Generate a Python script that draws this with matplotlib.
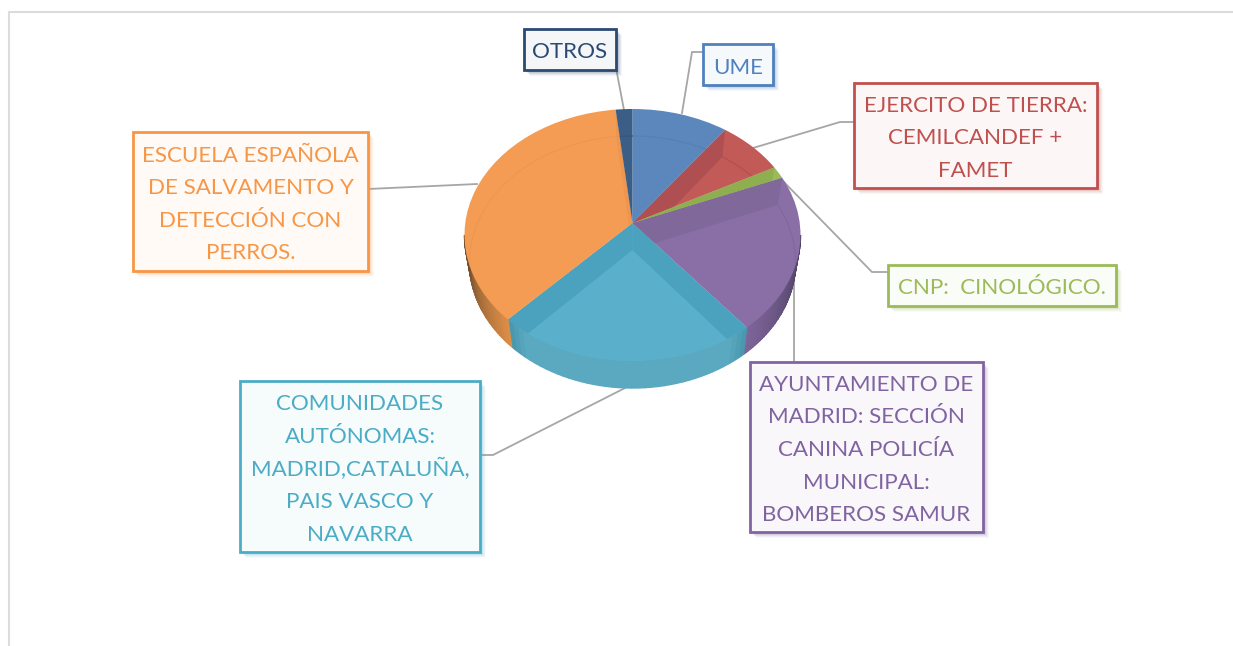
#!/usr/bin/env python3
# -*- coding: utf-8 -*-
import numpy as np
import matplotlib
matplotlib.use('Agg')
from matplotlib import pyplot as plt
from matplotlib.path import Path
from matplotlib.patches import Rectangle

# data (percent)
names = ['UME', 'EJERCITO', 'CNP', 'AYUNTAMIENTO', 'COMUNIDADES', 'ESCUELA', 'OTROS']
values = [9.3, 6.7, 1.5, 20.6, 25.2, 35.1, 1.6]
colors = ['#5b87bd', '#c25a58', '#9bbb59', '#8a6ea6', '#5ab0ca', '#f49c54', '#3b5e86']
wall_colors = ['#5680b5', '#b04f52', '#8fae50', '#80689a', '#4ba2bf', '#ee9650', '#35557a']
label_lines = [
    ['UME'],
    ['EJERCITO DE TIERRA:', 'CEMILCANDEF +', 'FAMET'],
    ['CNP:  CINOLÓGICO.'],
    ['AYUNTAMIENTO DE', 'MADRID: SECCIÓN', 'CANINA POLICÍA', 'MUNICIPAL:', 'BOMBEROS SAMUR'],
    ['COMUNIDADES', 'AUTÓNOMAS:', 'MADRID,CATALUÑA,', 'PAIS VASCO Y', 'NAVARRA'],
    ['ESCUELA ESPAÑOLA', 'DE SALVAMENTO Y', 'DETECCIÓN CON', 'PERROS.'],
    ['OTROS'],
]
label_colors = ['#4f81bd', '#c0504d', '#9bbb59', '#8064a2', '#4bacc6', '#f79646', '#2b4a72']

# layout in pixels
W, H = 1233, 646
cx, cy = 632.5, 235
rx, ry = 168, 126
rx_low = 163
apex_y = 223
depth = 27
boxes = [(703, 44, 773, 85), (854, 83, 1097, 188), (888, 265, 1116, 306),
         (750, 362, 983, 532), (240, 381, 480, 552), (133, 132, 368, 271),
         (524, 29, 616, 70)]
leaders = [[(703, 52), (692, 52), (682, 113)],
           [(854, 122), (840, 122), (753, 148)],
           [(888, 272), (872, 272), (780, 178)],
           [(794, 362), (794, 262)],
           [(480, 455), (493, 455), (625, 388)],
           [(368, 189), (477, 184)],
           [(616, 68), (624, 110)]]

plt.rcParams['font.family'] = ['Lato', 'DejaVu Sans']
fig = plt.figure(figsize=(W / 100, H / 100), dpi=100)
ax = fig.add_axes([0, 0, 1, 1])

wedges, _ = ax.pie(values, colors=colors, radius=rx, center=(cx, cy), startangle=90,
                   counterclock=False, wedgeprops={'linewidth': 0})
ax.set_aspect('auto')
ax.set_xlim(0, W)
ax.set_ylim(H, 0)
ax.axis('off')

# squash the round pie to the tilted ellipse, apex sits a bit above the ellipse centre
for w in wedges:
    p = w.get_path()
    v = p.vertices.copy()
    r = np.hypot(v[:, 0] - cx, v[:, 1] - cy)
    v[:, 1] = cy - (v[:, 1] - cy) * ry / rx
    v[r < 1, 1] = apex_y
    w._path = Path(v, p.codes)
    w.set_zorder(3)


def rim(t):
    return cx + rx * np.sin(t), cy - ry * np.cos(t)


def rim_low(t):
    return cx + rx_low * np.sin(t), cy + depth - ry * np.cos(t)


edges = np.cumsum([0] + values) / 100 * 2 * np.pi

# see-through radial walls of the slices
for i, w in enumerate(wedges):
    for t in (edges[i], edges[i + 1]):
        x, y = rim(t)
        x2, y2 = rim_low(t)
        quad = ax.fill([cx, x, x2, cx], [apex_y, y, y2, apex_y + depth],
                       color=wall_colors[i], lw=0, zorder=4)[0]
        quad.set_clip_path(w)

# back rim of the bottom face shows faintly through the top
tt = np.linspace(0, 2 * np.pi, 300)
for i, w in enumerate(wedges):
    x, y = rim_low(tt)
    ln, = ax.plot(x, y, color=wall_colors[i], lw=0.8, zorder=5)
    ln.set_clip_path(w)


# outer side wall, darker towards the sides
def mix(a, b, f):
    a = np.array(matplotlib.colors.to_rgb(a))
    b = np.array(matplotlib.colors.to_rgb(b))
    return tuple(a + (b - a) * f)


wall_ramps = {3: ('#4a3d5e', '#7d6499', 1), 4: ('#4a98ae', '#5aa9c1', 0), 5: ('#6a4a2a', '#dd8e48', -1)}
for i, (dark, light, mode) in wall_ramps.items():
    t0 = max(edges[i], np.pi / 2)
    t1 = min(edges[i + 1], 3 * np.pi / 2)
    steps = np.linspace(t0, t1, 41)
    for j in range(40):
        seg = np.linspace(steps[j], steps[j + 1], 4)
        xa, ya = rim(seg)
        xb, yb = rim_low(seg[::-1])
        f = j / 39
        if mode == -1:
            f = 1 - f
        if mode == 0:
            f = min(1, min(f, 1 - f) * 14)
        c = mix(dark, light, f)
        ax.fill(np.r_[xa, xb], np.r_[ya, yb], fc=c, ec=c, lw=1.0, zorder=2)

# leader lines
for pts in leaders:
    xs, ys = zip(*pts)
    ax.plot(xs, ys, color='#a6a6a6', lw=1.3, zorder=1, solid_joinstyle='miter')

# label boxes
for i, (x0, y0, x1, y1) in enumerate(boxes):
    for off, a in ((6, 0.05), (5, 0.07), (4, 0.09), (3, 0.12), (2, 0.15)):
        ax.add_patch(Rectangle((x0 + off, y0 + off), x1 - x0, y1 - y0, fc=label_colors[i],
                               ec='none', alpha=a, zorder=6))
    fill = mix(label_colors[i], '#ffffff', 0.95)
    ax.add_patch(Rectangle((x0, y0), x1 - x0, y1 - y0, fc=fill, ec=label_colors[i],
                           lw=2.0, zorder=7))
    lines = label_lines[i]
    ym = (y0 + y1) / 2 + 1
    for k, s in enumerate(lines):
        ax.text((x0 + x1) / 2, ym + (k - (len(lines) - 1) / 2) * 32.6, s, color=label_colors[i],
                fontsize=16.1, ha='center', va='center_baseline', zorder=8)

# chart area frame
ax.plot([9, 9, W], [H, 12, 12], color='#dcdcdc', lw=1.5, zorder=0, solid_joinstyle='miter')

fig.savefig('out.png', dpi=100)
